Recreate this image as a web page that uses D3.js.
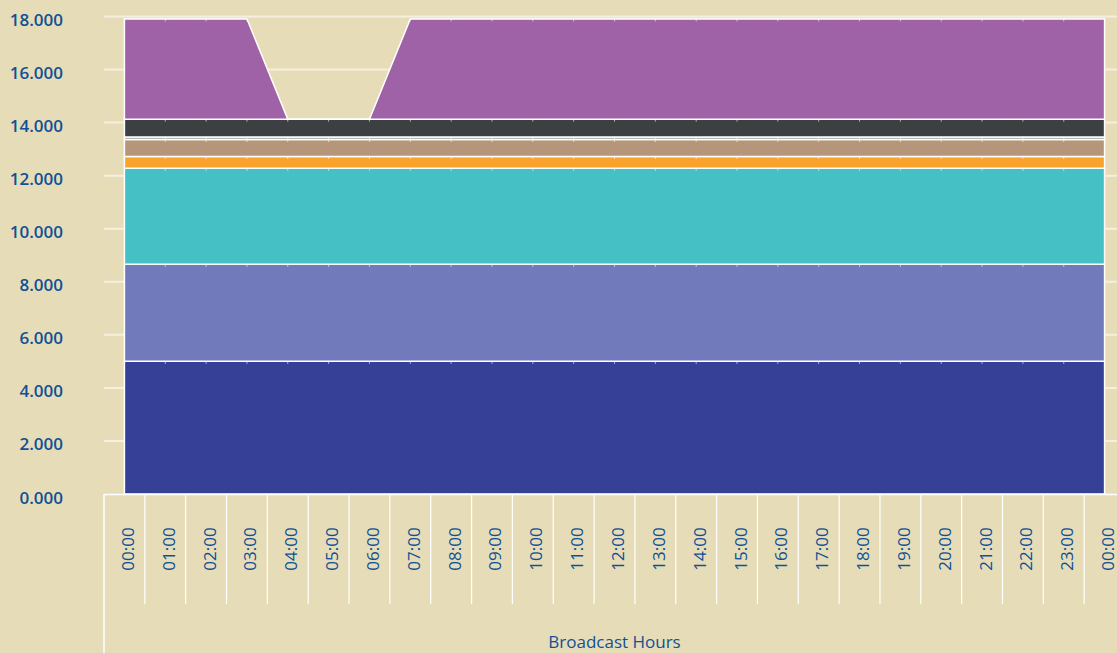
<!DOCTYPE html>
<html lang="en">
<head>
<meta charset="UTF-8">
<title>Broadcast Hours</title>
<script src="https://cdn.jsdelivr.net/npm/d3@7"></script>
<style>
	html, body {
		margin: 0;
		padding: 0;
		background-color: #e6ddb8;
	}
	svg {
		display: block;
		font-family: "Open Sans", sans-serif;
	}
	.ylab {
		font-size: 17px;
		font-weight: 600;
		fill: #0f5096;
	}
	.xlab {
		font-size: 17px;
		font-weight: 500;
		fill: #0f5096;
	}
</style>
</head>
<body>
<div id="chart"></div>
<script>
	// hours on the category axis
	var hours = ['00:00','01:00','02:00','03:00','04:00','05:00','06:00','07:00','08:00','09:00',
		'10:00','11:00','12:00','13:00','14:00','15:00','16:00','17:00','18:00','19:00',
		'20:00','21:00','22:00','23:00','00:00'];

	// stacked series, bottom to top
	var layer1 = [5.00,5.00,5.00,5.00,5.00,5.00,5.00,5.00,5.00,5.00,5.00,5.00,5.00,5.00,5.00,5.00,5.00,5.00,5.00,5.00,5.00,5.00,5.00,5.00,5.00];
	var layer2 = [3.66,3.66,3.66,3.66,3.66,3.66,3.66,3.66,3.66,3.66,3.66,3.66,3.66,3.66,3.66,3.66,3.66,3.66,3.66,3.66,3.66,3.66,3.66,3.66,3.66];
	var layer3 = [3.62,3.62,3.62,3.62,3.62,3.62,3.62,3.62,3.62,3.62,3.62,3.62,3.62,3.62,3.62,3.62,3.62,3.62,3.62,3.62,3.62,3.62,3.62,3.62,3.62];
	var layer4 = [0.44,0.44,0.44,0.44,0.44,0.44,0.44,0.44,0.44,0.44,0.44,0.44,0.44,0.44,0.44,0.44,0.44,0.44,0.44,0.44,0.44,0.44,0.44,0.44,0.44];
	var layer5 = [0.64,0.64,0.64,0.64,0.64,0.64,0.64,0.64,0.64,0.64,0.64,0.64,0.64,0.64,0.64,0.64,0.64,0.64,0.64,0.64,0.64,0.64,0.64,0.64,0.64];
	var layer6 = [0.10,0.10,0.10,0.10,0.10,0.10,0.10,0.10,0.10,0.10,0.10,0.10,0.10,0.10,0.10,0.10,0.10,0.10,0.10,0.10,0.10,0.10,0.10,0.10,0.10];
	var layer7 = [0.67,0.67,0.67,0.67,0.67,0.67,0.67,0.67,0.67,0.67,0.67,0.67,0.67,0.67,0.67,0.67,0.67,0.67,0.67,0.67,0.67,0.67,0.67,0.67,0.67];
	var layer8 = [3.78,3.78,3.78,3.78,0.00,0.00,0.00,3.78,3.78,3.78,3.78,3.78,3.78,3.78,3.78,3.78,3.78,3.78,3.78,3.78,3.78,3.78,3.78,3.78,3.78];

	var keys = ['layer1','layer2','layer3','layer4','layer5','layer6','layer7','layer8'];
	var colors = ['#364097','#717bbb','#45c0c5','#f9a32d','#b5967a','#9c9c9c','#3d4043','#a062a6'];
	var yTicks = [0, 2, 4, 6, 8, 10, 12, 14, 16, 18];
	var xTitle = 'Broadcast Hours';

	var width = 1117, height = 653;
	var left = 104, bandW = 40.84;
	var y0px = 494, ytop = 16.5;

	var table = hours.map(function (h, i) {
		return {
			i: i, hour: h,
			layer1: layer1[i], layer2: layer2[i], layer3: layer3[i], layer4: layer4[i],
			layer5: layer5[i], layer6: layer6[i], layer7: layer7[i], layer8: layer8[i]
		};
	});

	var svg = d3.select('#chart').append('svg')
		.attr('width', width)
		.attr('height', height);

	var x = d3.scaleBand()
		.domain(d3.range(hours.length))
		.range([left, left + bandW * hours.length])
		.padding(0);

	var y = d3.scaleLinear()
		.domain([0, 18])
		.range([y0px, ytop]);

	// grid lines
	svg.append('g').selectAll('line')
		.data(yTicks.filter(function (d) { return d > 0; }))
		.enter().append('line')
		.attr('x1', left)
		.attr('x2', width)
		.attr('y1', function (d) { return y(d); })
		.attr('y2', function (d) { return y(d); })
		.style('stroke', '#f5f0de')
		.style('stroke-width', 2);

	// y labels
	svg.append('g').selectAll('text')
		.data(yTicks)
		.enter().append('text')
		.attr('class', 'ylab')
		.attr('x', 63)
		.attr('y', function (d) { return y(d) + 9.5; })
		.attr('text-anchor', 'end')
		.text(function (d) { return d3.format('.3f')(d); });

	var stack = d3.stack().keys(keys);
	var series = stack(table);

	var area = d3.area()
		.x(function (d) { return x(d.data.i) + x.bandwidth() / 2; })
		.y0(function (d) { return y(d[0]); })
		.y1(function (d) { return y(d[1]); });

	svg.append('g').selectAll('path')
		.data(series)
		.enter().append('path')
		.attr('d', area)
		.style('fill', function (d, i) { return colors[i]; })
		.style('stroke', '#ffffff')
		.style('stroke-width', 1.5)
		.style('stroke-linejoin', 'miter');

	// small point ticks on the layer tops
	series.forEach(function (s) {
		svg.append('g').selectAll('line')
			.data(s.filter(function (d) { return d[1] > d[0]; }))
			.enter().append('line')
			.attr('x1', function (d) { return x(d.data.i) + x.bandwidth() / 2; })
			.attr('x2', function (d) { return x(d.data.i) + x.bandwidth() / 2; })
			.attr('y1', function (d) { return y(d[1]); })
			.attr('y2', function (d) { return y(d[1]) + 2.5; })
			.style('stroke', '#ffffff')
			.style('stroke-opacity', 0.6)
			.style('stroke-width', 1);
	});

	// category axis
	var axis = svg.append('g');
	axis.append('line')
		.attr('x1', left).attr('x2', width)
		.attr('y1', y0px + 0.5).attr('y2', y0px + 0.5)
		.style('stroke', '#ffffff').style('stroke-width', 1.5);
	axis.append('line')
		.attr('x1', left).attr('x2', left)
		.attr('y1', y0px).attr('y2', height)
		.style('stroke', '#ffffff').style('stroke-width', 1.5);
	axis.selectAll('.sep')
		.data(d3.range(1, hours.length))
		.enter().append('line')
		.attr('class', 'sep')
		.attr('x1', function (d) { return x(d); })
		.attr('x2', function (d) { return x(d); })
		.attr('y1', y0px)
		.attr('y2', 604)
		.style('stroke', '#ffffff').style('stroke-width', 1.2);

	axis.selectAll('.xlab')
		.data(hours)
		.enter().append('text')
		.attr('class', 'xlab')
		.attr('transform', function (d, i) {
			return 'translate(' + (x(i) + x.bandwidth() / 2 + 9.5) + ',549) rotate(-90)';
		})
		.attr('text-anchor', 'middle')
		.text(function (d) { return d; });

	svg.append('text')
		.attr('class', 'xlab')
		.attr('x', (left + left + bandW * hours.length) / 2)
		.attr('y', 648)
		.attr('text-anchor', 'middle')
		.text(xTitle);
</script>
</body>
</html>
